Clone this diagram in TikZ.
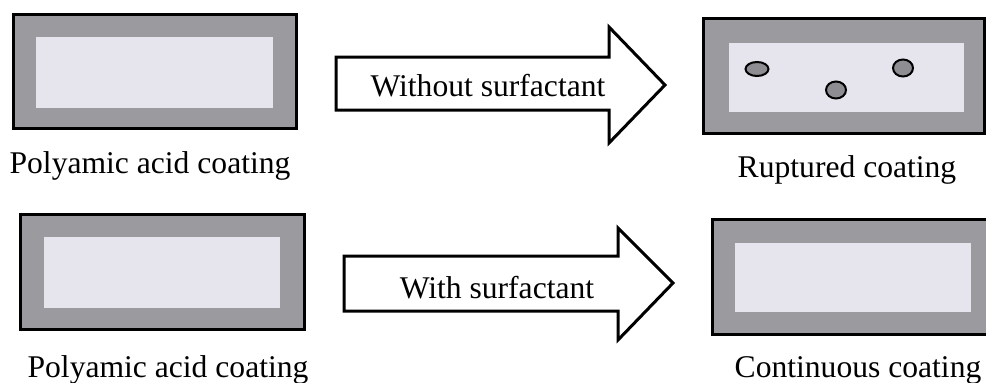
\documentclass[tikz,border=0pt]{standalone}
\usepackage{fontspec}
\setmainfont{Liberation Serif}
\usetikzlibrary{shapes.geometric}
\begin{document}
\begin{tikzpicture}[x=1pt,y=-1pt,
  outerbox/.style={fill=coatgray,draw=black,line width=3pt},
  innerbox/.style={fill=coatlight,draw=none},
  bigarrow/.style={draw=black,fill=white,line width=3pt,line join=miter},
  lbl/.style={font=\fontsize{31.6}{36}\selectfont,inner sep=0pt,anchor=base},
  hole/.style={ellipse,fill=holegray,draw=black,line width=2pt,inner sep=0pt}]
\definecolor{coatgray}{HTML}{9A9A9F}
\definecolor{coatlight}{HTML}{E6E5EE}
\definecolor{holegray}{HTML}{8E8E92}
\useasboundingbox (0,0) rectangle (986,383);
% top-left
\draw[outerbox] (13,14) rectangle (296,128);
\fill[innerbox] (36,37) rectangle (273,108);
\node[lbl] (t1) at (150,173) {Polyamic acid coating};
% arrow 1
\draw[bigarrow] (336,57) -- (609,57) -- (609,27) -- (665,85) -- (609,143) -- (609,110) -- (336,110) -- cycle;
\node[lbl] (a1) at (488,96) {Without surfactant};
% top-right
\draw[outerbox] (703,18) rectangle (984,133);
\fill[innerbox] (729,43) rectangle (964,112);
\node[hole,minimum width=23pt,minimum height=14pt] (h1) at (757,69) {};
\node[hole,minimum width=20pt,minimum height=17pt] (h2) at (836,90) {};
\node[hole,minimum width=20pt,minimum height=17pt] (h3) at (903,68) {};
\node[lbl] (t2) at (847,177) {Ruptured coating};
% bottom-left
\draw[outerbox] (20,214) rectangle (304,329);
\fill[innerbox] (44,237) rectangle (280,308);
\node[lbl] (t3) at (168,377) {Polyamic acid coating};
% arrow 2
\draw[bigarrow] (344,256) -- (618,256) -- (618,228) -- (673,283) -- (618,340) -- (618,311) -- (344,311) -- cycle;
\node[lbl] (a2) at (497,298) {With surfactant};
% bottom-right
\draw[outerbox] (712,219) rectangle (995,334);
\fill[innerbox] (735,243) rectangle (971,312);
\node[lbl] (t4) at (858,377) {Continuous coating};
\end{tikzpicture}
\end{document}
